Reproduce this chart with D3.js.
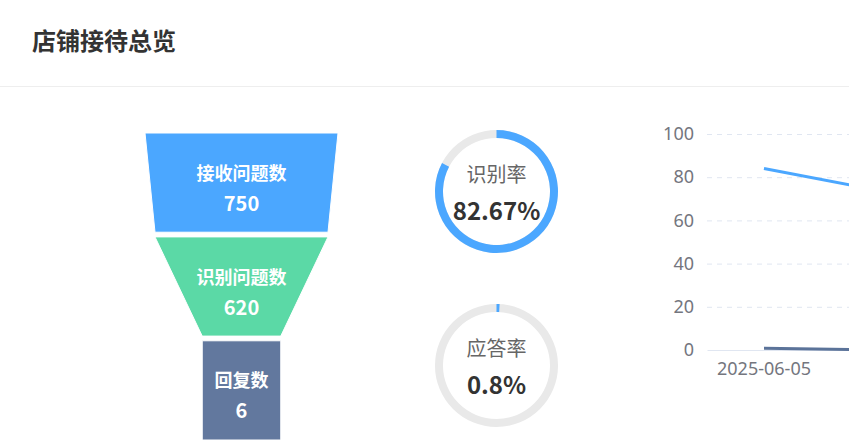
<!DOCTYPE html>
<html>
<head>
<meta charset="utf-8">
<script src="https://cdn.jsdelivr.net/npm/d3@7"></script>
<style>
  body { margin: 0; background: #fff; }
  svg { display: block; font-family: "Noto Sans CJK SC", "Noto Sans", sans-serif; }
</style>
</head>
<body>
<svg id="board"></svg>
<script>
// funnel
const funnelLabels = ['接收问题数', '识别问题数', '回复数'];
const funnelValues = [750, 620, 6];
const funnelColors = ['#4ba7ff', '#5bd9a6', '#62789e'];

// rate gauges
const gaugeLabels = ['识别率', '应答率'];
const gaugeValues = [82.67, 0.8];
const gaugeTexts = ['82.67%', '0.8%'];

// daily trend
const trendDates = ['2025-06-05', '2025-06-06'];
const recognizeSeries = [84, 74];
const replySeries = [0.8, 0];
const yTicks = [0, 20, 40, 60, 80, 100];

const width = 849;
const height = 442;

const svg = d3.select('#board')
    .attr('width', width)
    .attr('height', height);

function drawHeader() {
    svg.append('text')
        .attr('x', 32)
        .attr('y', 39)
        .attr('dominant-baseline', 'central')
        .attr('font-size', 24)
        .attr('font-weight', 'bold')
        .attr('fill', '#333')
        .text('店铺接待总览');

    svg.append('line')
        .attr('x1', 0).attr('x2', width)
        .attr('y1', 86.5).attr('y2', 86.5)
        .attr('stroke', '#eeeeee')
        .attr('stroke-width', 1);
}

function drawFunnel() {
    const cx = 241.5;
    const w = d3.scaleLinear().domain([0, d3.max(funnelValues)]).range([77.6, 193]);
    const y = d3.scaleBand().domain(funnelLabels).range([133, 440]).paddingInner(0.045);

    const g = svg.append('g');

    const seg = g.selectAll('.seg')
        .data(funnelLabels)
        .join('g')
        .attr('class', 'seg');

    seg.append('path')
        .attr('d', function(d, i) {
            const top = w(funnelValues[i]) / 2;
            const next = i < funnelValues.length - 1 ? funnelValues[i + 1] : funnelValues[i];
            const bot = w(next) / 2;
            const y0 = y(d), y1 = y(d) + y.bandwidth();
            return `M${cx - top},${y0}L${cx + top},${y0}L${cx + bot},${y1}L${cx - bot},${y1}Z`;
        })
        .attr('fill', (d, i) => funnelColors[i])
        .attr('stroke', '#fff')
        .attr('stroke-width', 1);

    seg.append('text')
        .attr('x', cx)
        .attr('y', d => y(d) + y.bandwidth() / 2 - 11)
        .attr('text-anchor', 'middle')
        .attr('dominant-baseline', 'central')
        .attr('font-size', 18)
        .attr('font-weight', 'bold')
        .attr('fill', '#fff')
        .text(d => d);

    seg.append('text')
        .attr('x', cx)
        .attr('y', d => y(d) + y.bandwidth() / 2 + 28)
        .attr('text-anchor', 'middle')
        .attr('font-size', 20)
        .attr('font-weight', 'bold')
        .attr('fill', '#fff')
        .text((d, i) => funnelValues[i]);
}

function drawGauges() {
    const cx = 496.5;
    const centers = [191.5, 365.5];
    const angle = d3.scaleLinear().domain([0, 100]).range([0, 2 * Math.PI]);
    const arc = d3.arc().innerRadius(53.5).outerRadius(61.5);

    gaugeLabels.forEach(function(label, i) {
        const g = svg.append('g')
            .attr('transform', `translate(${cx}, ${centers[i]})`);

        g.append('path')
            .attr('d', arc({ startAngle: 0, endAngle: 2 * Math.PI }))
            .attr('fill', '#e9e9e9');

        g.append('path')
            .attr('d', arc({ startAngle: 0, endAngle: angle(gaugeValues[i]) }))
            .attr('fill', '#4ba7ff');

        g.append('text')
            .attr('y', -18)
            .attr('text-anchor', 'middle')
            .attr('dominant-baseline', 'central')
            .attr('font-size', 20)
            .attr('fill', '#666')
            .text(label);

        g.append('text')
            .attr('y', 28.5)
            .attr('text-anchor', 'middle')
            .attr('font-size', 24)
            .attr('font-weight', 'bold')
            .attr('fill', '#333')
            .text(gaugeTexts[i]);
    });
}

function drawTrend() {
    const left = 707;
    const band = 114;
    const x = d3.scaleBand()
        .domain(trendDates)
        .range([left, left + band * trendDates.length]);
    const y = d3.scaleLinear()
        .domain([0, 100])
        .range([350, 134]);

    const g = svg.append('g');

    // dashed grid
    g.selectAll('.grid')
        .data(yTicks.filter(t => t > 0))
        .join('line')
        .attr('class', 'grid')
        .attr('x1', left).attr('x2', width)
        .attr('y1', d => y(d) + 0.5).attr('y2', d => y(d) + 0.5)
        .attr('stroke', '#e0e6f1')
        .attr('stroke-dasharray', '5,5');

    const gy = g.append('g')
        .attr('transform', `translate(${left}, 0)`)
        .call(d3.axisLeft(y).tickValues(yTicks).tickSize(0).tickPadding(13));
    gy.select('.domain').remove();
    gy.selectAll('text')
        .attr('font-size', 18)
        .attr('fill', '#74767e')
        .attr('font-family', '"Noto Sans", sans-serif');

    const gx = g.append('g')
        .attr('transform', `translate(0, ${y(0)})`)
        .call(d3.axisBottom(x).tickValues(trendDates.filter((d, i) => i % 2 === 0)).tickSize(0).tickPadding(12));
    gx.select('.domain')
        .attr('stroke', '#e0e6f1');
    gx.selectAll('text')
        .attr('font-size', 18)
        .attr('fill', '#74767e')
        .attr('font-family', '"Noto Sans", sans-serif');

    const line = d3.line()
        .x((d, i) => x(trendDates[i]) + x.bandwidth() / 2)
        .y(d => y(d));

    g.append('path')
        .datum(replySeries)
        .attr('d', line)
        .attr('fill', 'none')
        .attr('stroke', '#5b7399')
        .attr('stroke-width', 3);

    g.append('path')
        .datum(recognizeSeries)
        .attr('d', line)
        .attr('fill', 'none')
        .attr('stroke', '#4ba7ff')
        .attr('stroke-width', 3);
}

drawHeader();
drawFunnel();
drawGauges();
drawTrend();
</script>
</body>
</html>
